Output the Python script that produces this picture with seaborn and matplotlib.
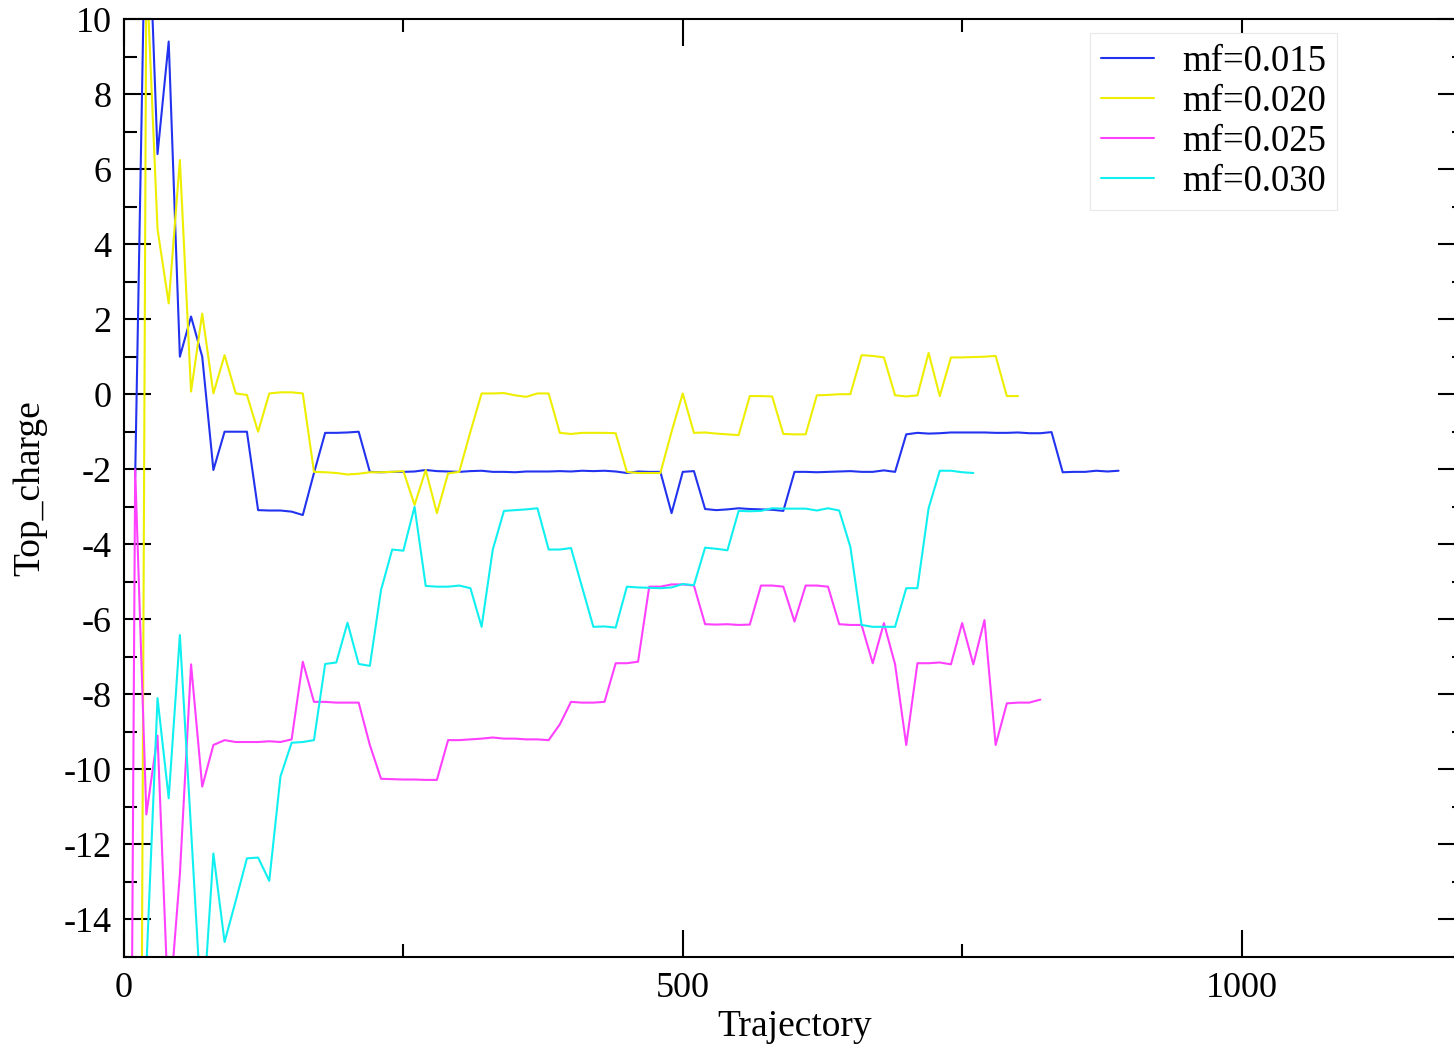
import pandas as pd
import numpy as np
import seaborn as sns
import matplotlib.pyplot as plt
from matplotlib.ticker import MultipleLocator, FixedLocator

# series labels and colours
labels = ['mf=0.015', 'mf=0.020', 'mf=0.025', 'mf=0.030']
colors = ['#2233f0', '#eeee00', '#ff40ff', '#10f0f0']

# topological charge vs trajectory (sampled every 10 trajectories)
traj_015 = list(range(10, 900, 10))
q_015 = [-2.2, 14.5, 6.4, 9.4, 1.0, 2.07, 1.0, -2.02, -1.0, -1.0,
         -1.0, -3.09, -3.1, -3.1, -3.13, -3.22, -2.1, -1.03, -1.03, -1.02,
         -1.0, -2.07, -2.08, -2.07, -2.07, -2.06, -2.02, -2.05, -2.06, -2.07,
         -2.05, -2.04, -2.07, -2.07, -2.08, -2.06, -2.06, -2.06, -2.05, -2.06,
         -2.04, -2.05, -2.04, -2.06, -2.1, -2.06, -2.07, -2.07, -3.17, -2.07,
         -2.05, -3.06, -3.09, -3.07, -3.04, -3.06, -3.07, -3.08, -3.11, -2.07,
         -2.07, -2.08, -2.07, -2.06, -2.05, -2.07, -2.07, -2.03, -2.07, -1.07,
         -1.03, -1.05, -1.04, -1.02, -1.02, -1.02, -1.02, -1.03, -1.03, -1.02,
         -1.04, -1.04, -1.01, -2.08, -2.07, -2.07, -2.04, -2.06, -2.04]

traj_020 = list(range(10, 810, 10))
q_020 = [-56.0, 11.4, 4.4, 2.42, 6.24, 0.07, 2.15, 0.02, 1.04, 0.02,
         -0.02, -1.0, 0.02, 0.05, 0.05, 0.02, -2.07, -2.08, -2.1, -2.14,
         -2.12, -2.08, -2.08, -2.07, -2.05, -2.95, -2.02, -3.17, -2.11, -2.07,
         -1.0, 0.02, 0.02, 0.03, -0.03, -0.07, 0.02, 0.02, -1.03, -1.06,
         -1.03, -1.03, -1.03, -1.04, -2.07, -2.1, -2.1, -2.1, -1.0, 0.02,
         -1.03, -1.02, -1.05, -1.07, -1.09, -0.05, -0.05, -0.06, -1.06, -1.07,
         -1.07, -0.03, -0.02, 0.0, 0.0, 1.04, 1.02, 0.98, -0.03, -0.06,
         -0.03, 1.1, -0.05, 0.98, 0.98, 0.99, 1.0, 1.02, -0.05, -0.05]

traj_025 = list(range(0, 830, 10))
q_025 = [-50.0, -2.0, -11.2, -9.1, -16.6, -12.8, -7.2, -10.46, -9.35, -9.22,
         -9.27, -9.27, -9.27, -9.25, -9.27, -9.2, -7.13, -8.2, -8.2, -8.22,
         -8.22, -8.22, -9.35, -10.25, -10.26, -10.27, -10.27, -10.28, -10.28, -9.22,
         -9.22, -9.2, -9.18, -9.15, -9.18, -9.18, -9.2, -9.2, -9.22, -8.8,
         -8.2, -8.22, -8.22, -8.2, -7.17, -7.17, -7.13, -5.13, -5.13, -5.07,
         -5.07, -5.1, -6.13, -6.14, -6.13, -6.15, -6.14, -5.1, -5.1, -5.13,
         -6.06, -5.1, -5.1, -5.13, -6.13, -6.15, -6.15, -7.17, -6.1, -7.2,
         -9.35, -7.17, -7.17, -7.15, -7.2, -6.1, -7.2, -6.02, -9.35, -8.24,
         -8.22, -8.22, -8.14]

traj_030 = list(range(10, 770, 10))
q_030 = [-45.0, -15.3, -8.1, -10.77, -6.42, -11.6, -16.8, -12.24, -14.6, -13.5,
         -12.37, -12.35, -12.97, -10.19, -9.29, -9.27, -9.22, -7.19, -7.15, -6.09,
         -7.19, -7.24, -5.22, -4.14, -4.17, -3.0, -5.11, -5.13, -5.13, -5.1,
         -5.17, -6.2, -4.14, -3.11, -3.09, -3.07, -3.04, -4.14, -4.14, -4.1,
         -5.15, -6.2, -6.19, -6.22, -5.13, -5.15, -5.16, -5.17, -5.15, -5.06,
         -5.09, -4.09, -4.12, -4.16, -3.11, -3.12, -3.11, -3.04, -3.05, -3.05,
         -3.05, -3.1, -3.04, -3.1, -4.07, -6.15, -6.2, -6.2, -6.2, -5.17,
         -5.17, -3.04, -2.04, -2.04, -2.08, -2.1]

frames = []
for lab, t, q in zip(labels, [traj_015, traj_020, traj_025, traj_030],
                     [q_015, q_020, q_025, q_030]):
    frames.append(pd.DataFrame({'Trajectory': t, 'Top_charge': q, 'series': lab}))
df = pd.concat(frames, ignore_index=True)

sns.set_style('ticks')
plt.rcParams['font.family'] = ['Liberation Serif', 'DejaVu Serif']
plt.rcParams['axes.linewidth'] = 1.5
plt.rcParams['axes.unicode_minus'] = False
plt.rcParams['text.color'] = 'black'
plt.rcParams['axes.labelcolor'] = 'black'
plt.rcParams['axes.edgecolor'] = 'black'
plt.rcParams['xtick.color'] = 'black'
plt.rcParams['ytick.color'] = 'black'

fig = plt.figure(figsize=(14.54, 10.46), dpi=100)
# axes box runs past the right edge of the image, as in the reference
ax = fig.add_axes([124 / 1454, 89 / 1046, 1341 / 1454, 938 / 1046])

sns.lineplot(data=df, x='Trajectory', y='Top_charge', hue='series',
             palette=dict(zip(labels, colors)), estimator=None, sort=False,
             lw=1.5, legend=False, ax=ax)

ax.set_xlim(0, 1200)
ax.set_ylim(-15, 10)
ax.xaxis.set_major_locator(FixedLocator([0, 500, 1000]))
ax.xaxis.set_minor_locator(FixedLocator([250, 750]))
ax.yaxis.set_major_locator(MultipleLocator(2))
ax.yaxis.set_minor_locator(MultipleLocator(1))
ax.tick_params(which='both', direction='in', top=True, right=True,
               width=1.5, color='black')
ax.tick_params(which='major', length=19.5, labelsize=26, pad=9)
ax.tick_params(axis='x', which='major', pad=11)
ax.tick_params(which='minor', length=9.5)

ax.set_xlabel('Trajectory', fontsize=27)
ax.set_ylabel('Top_charge', fontsize=27)
ax.xaxis.set_label_coords(0.5, -0.056)
ax.yaxis.set_label_coords(-0.057, 0.5)

handles = ax.get_lines()[:4]
leg = ax.legend(handles, labels, loc='upper left',
                bbox_to_anchor=(1090 / 1454, 1 - 33 / 1046),
                bbox_transform=fig.transFigure, fontsize=26.5, frameon=True,
                fancybox=False, framealpha=1, edgecolor='#e8e8e8',
                handlelength=1.45, handletextpad=0.75, labelspacing=0.15,
                borderpad=0.3, borderaxespad=0)
leg.get_frame().set_linewidth(0.8)

fig.savefig('out.png', dpi=100)
